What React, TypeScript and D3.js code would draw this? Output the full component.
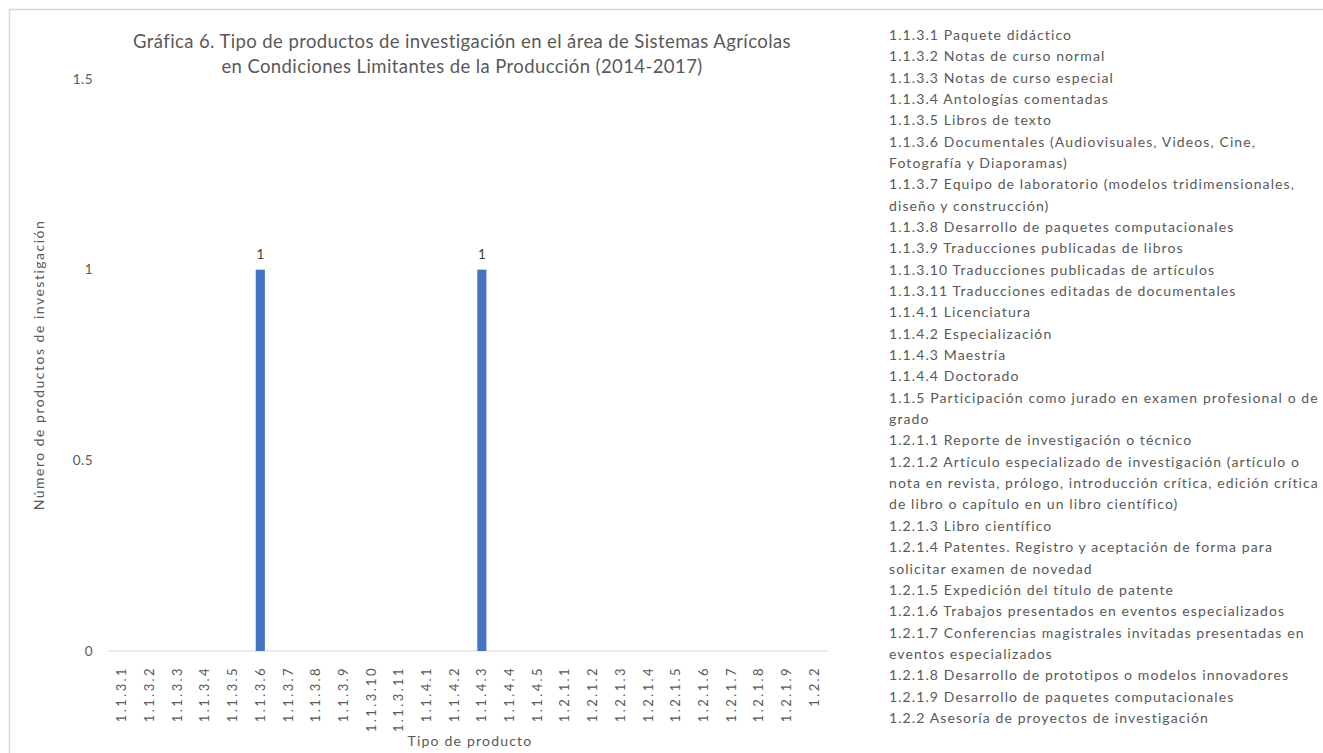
import React, { useEffect, useRef } from 'react';
import * as d3 from 'd3';

const categories = [
    '1.1.3.1', '1.1.3.2', '1.1.3.3', '1.1.3.4', '1.1.3.5', '1.1.3.6', '1.1.3.7',
    '1.1.3.8', '1.1.3.9', '1.1.3.10', '1.1.3.11', '1.1.4.1', '1.1.4.2', '1.1.4.3',
    '1.1.4.4', '1.1.4.5', '1.2.1.1', '1.2.1.2', '1.2.1.3', '1.2.1.4', '1.2.1.5',
    '1.2.1.6', '1.2.1.7', '1.2.1.8', '1.2.1.9', '1.2.2'
];

const values = [
    0, 0, 0, 0, 0, 1, 0,
    0, 0, 0, 0, 0, 0, 1,
    0, 0, 0, 0, 0, 0, 0,
    0, 0, 0, 0, 0
];

const yTicks = [0, 0.5, 1, 1.5];

const titleLines = [
    'Gráfica 6. Tipo de productos de investigación en el área de Sistemas Agrícolas',
    'en Condiciones  Limitantes de la Producción (2014-2017)'
];

const yTitle = 'Número de productos de investigación';
const xTitle = 'Tipo de producto';

// texto de la leyenda, ya partido en renglones como en el cuadro original
const legendLines = [
    '1.1.3.1 Paquete didáctico',
    '1.1.3.2 Notas de curso normal',
    '1.1.3.3 Notas de curso especial',
    '1.1.3.4 Antologías comentadas',
    '1.1.3.5 Libros de texto',
    '1.1.3.6 Documentales (Audiovisuales, Videos, Cine,',
    'Fotografía y Diaporamas)',
    '1.1.3.7 Equipo de laboratorio (modelos tridimensionales,',
    'diseño y construcción)',
    '1.1.3.8 Desarrollo de paquetes computacionales',
    '1.1.3.9 Traducciones publicadas de libros',
    '1.1.3.10 Traducciones publicadas de artículos',
    '1.1.3.11 Traducciones editadas de documentales',
    '1.1.4.1 Licenciatura',
    '1.1.4.2 Especialización',
    '1.1.4.3 Maestría',
    '1.1.4.4 Doctorado',
    '1.1.5 Participación como jurado en examen profesional o de',
    'grado',
    '1.2.1.1 Reporte de investigación o técnico',
    '1.2.1.2 Artículo especializado de investigación (artículo o',
    'nota en revista, prólogo, introducción crítica, edición crítica',
    'de libro o capítulo en un libro científico)',
    '1.2.1.3 Libro científico',
    '1.2.1.4 Patentes. Registro y aceptación de forma para',
    'solicitar examen de novedad',
    '1.2.1.5 Expedición del título de patente',
    '1.2.1.6 Trabajos presentados en eventos especializados',
    '1.2.1.7 Conferencias magistrales invitadas presentadas en',
    'eventos especializados',
    '1.2.1.8 Desarrollo de prototipos o modelos innovadores',
    '1.2.1.9 Desarrollo de paquetes computacionales',
    '1.2.2 Asesoría de proyectos de investigación'
];

const App: React.FC = () => {
    const svgRef = useRef<SVGSVGElement | null>(null);

    useEffect(() => {
        document.body.style.margin = '0';
        const width = 1323;
        const height = 753;
        const plot = { left: 108, right: 828, top: 79, bottom: 651 };
        const textColor = '#595959';
        const font = 'Lato, "Open Sans", sans-serif';

        const svg = d3.select(svgRef.current)
            .attr('width', width)
            .attr('height', height)
            .style('display', 'block')
            .style('font-family', font);
        svg.selectAll('*').remove();

        svg.append('rect')
            .attr('width', width)
            .attr('height', height)
            .attr('fill', '#fff');

        svg.append('rect')
            .attr('x', 9.5)
            .attr('y', 9.5)
            .attr('width', width + 50)
            .attr('height', height + 50)
            .attr('fill', 'none')
            .attr('stroke', '#d9d9d9')
            .attr('stroke-width', 1.5);

        const x = d3.scaleBand<string>()
            .domain(categories)
            .range([plot.left, plot.right])
            .paddingInner(0.67)
            .paddingOuter(0.335);

        const y = d3.scaleLinear()
            .domain([0, 1.5])
            .range([plot.bottom, plot.top]);

        // título
        svg.append('g')
            .selectAll('text')
            .data(titleLines)
            .enter()
            .append('text')
            .attr('x', 462)
            .attr('y', (_, i) => 48 + i * 24.5)
            .attr('text-anchor', 'middle')
            .attr('fill', textColor)
            .style('font-size', '18.5px')
            .style('letter-spacing', '0.4px')
            .text(d => d);

        // etiquetas del eje y
        svg.append('g')
            .selectAll('text')
            .data(yTicks)
            .enter()
            .append('text')
            .attr('x', 93)
            .attr('y', d => y(d))
            .attr('dy', '0.35em')
            .attr('text-anchor', 'end')
            .attr('fill', textColor)
            .style('font-size', '13.5px')
            .style('letter-spacing', '0.5px')
            .text(d => d3.format('~g')(d));

        // línea base
        svg.append('line')
            .attr('x1', plot.left)
            .attr('x2', plot.right)
            .attr('y1', y(0))
            .attr('y2', y(0))
            .attr('stroke', '#d9d9d9')
            .attr('stroke-width', 1);

        const data = categories.map((c, i) => ({ cat: c, value: values[i] }));

        svg.append('g')
            .selectAll('rect')
            .data(data.filter(d => d.value > 0))
            .enter()
            .append('rect')
            .attr('x', d => x(d.cat) as number)
            .attr('y', d => y(d.value))
            .attr('width', x.bandwidth())
            .attr('height', d => y(0) - y(d.value))
            .attr('fill', '#4472c4');

        svg.append('g')
            .selectAll('text')
            .data(data.filter(d => d.value > 0))
            .enter()
            .append('text')
            .attr('x', d => (x(d.cat) as number) + x.bandwidth() / 2)
            .attr('y', d => y(d.value) - 11)
            .attr('text-anchor', 'middle')
            .attr('fill', '#404040')
            .style('font-size', '13.5px')
            .text(d => d.value);

        // etiquetas de categorías, giradas
        svg.append('g')
            .selectAll('text')
            .data(categories)
            .enter()
            .append('text')
            .attr('transform', d => `translate(${(x(d) as number) + x.bandwidth() / 2}, 666) rotate(-90)`)
            .attr('dy', '0.35em')
            .attr('text-anchor', 'end')
            .attr('fill', textColor)
            .style('font-size', '13px')
            .style('letter-spacing', '2.4px')
            .text(d => d);

        svg.append('text')
            .attr('x', 470)
            .attr('y', 746)
            .attr('text-anchor', 'middle')
            .attr('fill', textColor)
            .style('font-size', '14px')
            .style('letter-spacing', '1.2px')
            .text(xTitle);

        svg.append('text')
            .attr('transform', 'translate(44, 365) rotate(-90)')
            .attr('text-anchor', 'middle')
            .attr('fill', textColor)
            .style('font-size', '14px')
            .style('letter-spacing', '1.5px')
            .text(yTitle);

        // leyenda como cuadro de texto
        svg.append('g')
            .selectAll('text')
            .data(legendLines)
            .enter()
            .append('text')
            .attr('x', 889)
            .attr('y', (_, i) => 40 + i * 21.34)
            .attr('fill', textColor)
            .style('font-size', '14px')
            .style('letter-spacing', '1.1px')
            .text(d => d);
    }, []);

    return <svg ref={svgRef}></svg>;
};

export default App;
